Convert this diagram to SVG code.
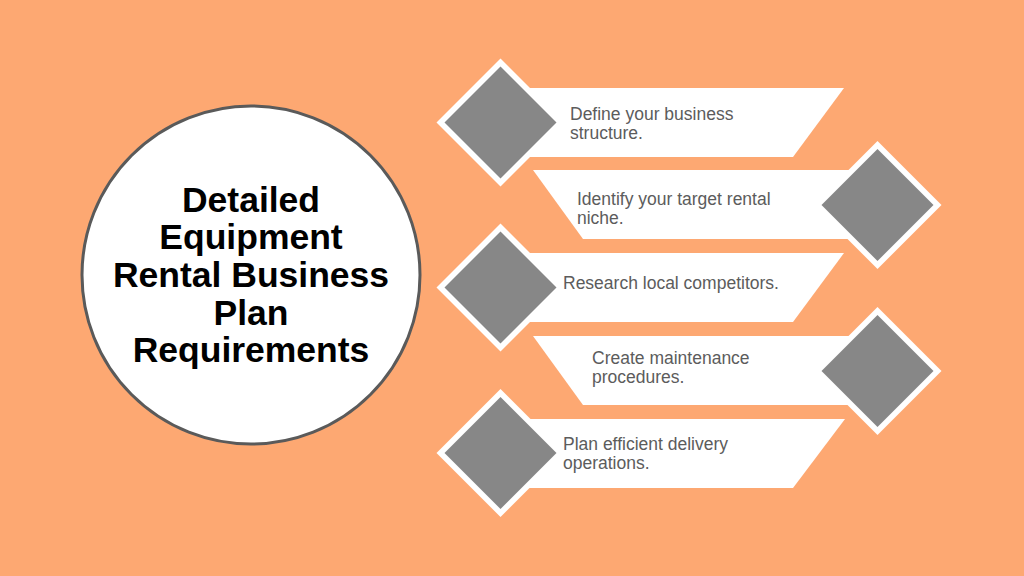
<svg xmlns="http://www.w3.org/2000/svg" width="1024" height="576" viewBox="0 0 1024 576">
<style>
.banner{fill:#ffffff}
.dout{fill:#ffffff}
.din{fill:#878787}
.item{font-family:"Liberation Sans",Arial,sans-serif;font-size:17.5px;fill:#5c5c5c}
.title{font-family:"Liberation Sans",Arial,sans-serif;font-size:35.5px;font-weight:bold;fill:#000000;text-anchor:middle}
</style>
<rect x="0" y="0" width="1024" height="576" fill="#FDA872"/>
<g id="hub">
<circle cx="251" cy="275" r="169" fill="#ffffff" stroke="#5a5a5a" stroke-width="3"/>
<text class="title"><tspan x="251" y="212">Detailed</tspan><tspan x="251" y="249">Equipment</tspan><tspan x="251" y="287">Rental Business</tspan><tspan x="251" y="325">Plan</tspan><tspan x="251" y="362">Requirements</tspan></text>
</g>
<g id="connectors"></g>
<g id="item1">
<polygon class="banner" points="500,88 844,88 793,157 500,157"/>
<polygon class="dout" points="500.5,58.5 564.5,122.5 500.5,186.5 436.5,122.5"/>
<polygon class="din" points="500.5,66.5 556.5,122.5 500.5,178.5 444.5,122.5"/>
<text class="item"><tspan x="570" y="120">Define your business</tspan><tspan x="570" y="138.5">structure.</tspan></text>
</g>
<g id="item2">
<polygon class="banner" points="533,170 877,170 877,239 583,239"/>
<polygon class="dout" points="877.5,141 941.5,205 877.5,269 813.5,205"/>
<polygon class="din" points="877.5,149 933.5,205 877.5,261 821.5,205"/>
<text class="item"><tspan x="577" y="205">Identify your target rental</tspan><tspan x="577" y="223.5">niche.</tspan></text>
</g>
<g id="item3">
<polygon class="banner" points="500,253 844,253 793,322 500,322"/>
<polygon class="dout" points="500.5,223.5 564.5,287.5 500.5,351.5 436.5,287.5"/>
<polygon class="din" points="500.5,231.5 556.5,287.5 500.5,343.5 444.5,287.5"/>
<text class="item" x="563" y="289">Research local competitors.</text>
</g>
<g id="item4">
<polygon class="banner" points="533,336 877,336 877,405 583,405"/>
<polygon class="dout" points="877.5,307 941.5,371 877.5,435 813.5,371"/>
<polygon class="din" points="877.5,315 933.5,371 877.5,427 821.5,371"/>
<text class="item"><tspan x="592" y="364">Create maintenance</tspan><tspan x="592" y="382.5">procedures.</tspan></text>
</g>
<g id="item5">
<polygon class="banner" points="500,419 845,419 793,488 500,488"/>
<polygon class="dout" points="500.5,389 564.5,453 500.5,517 436.5,453"/>
<polygon class="din" points="500.5,397 556.5,453 500.5,509 444.5,453"/>
<text class="item"><tspan x="563" y="450">Plan efficient delivery</tspan><tspan x="563" y="468.5">operations.</tspan></text>
</g>
</svg>
